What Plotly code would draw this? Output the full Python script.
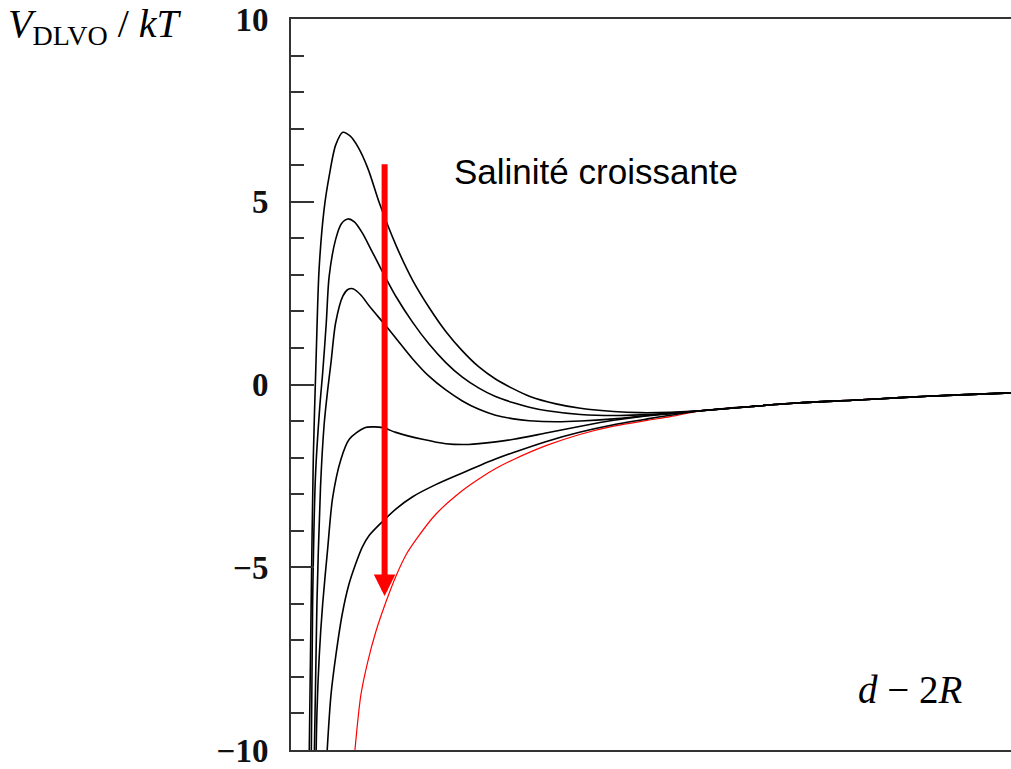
import plotly.graph_objects as go

# Separation d - 2R (arbitrary units) and interaction energy V_DLVO / kT
# for increasing salinity (curves 1 -> 5), plus the high-salinity limit.
x_c1 = [0.25, 0.28, 0.31, 0.35, 0.39, 0.46, 0.53, 0.62, 0.72, 0.82, 0.93, 1.07, 1.23,
        1.46, 1.69, 1.92, 2.15, 2.38, 2.61, 2.84, 3.09, 3.31, 3.68, 4.02, 4.48, 4.85, 5.27]
v_c1 = [-10.6, -6.0, -2.0, 0.8, 3.15, 4.8, 5.7, 6.55, 6.9, 6.8, 6.5, 5.9, 4.95,
        3.80, 2.85, 2.10, 1.45, 0.92, 0.48, 0.15, -0.12, -0.32, -0.53, -0.65, -0.74, -0.77,
        -0.76]

x_c2 = [0.28, 0.30, 0.34, 0.40, 0.44, 0.49, 0.53, 0.62, 0.70, 0.79, 0.88, 0.99, 1.11,
        1.23, 1.46, 1.69, 1.92, 2.15, 2.38, 2.61, 2.84, 3.09, 3.31, 3.56, 4.02, 4.48,
        4.85, 5.27]
v_c2 = [-10.6, -6.0, -2.5, -0.6, 0.32, 1.69, 2.96, 3.97, 4.40, 4.53, 4.45, 4.15, 3.70,
        3.24, 2.40, 1.70, 1.10, 0.60, 0.20, -0.10, -0.33, -0.50, -0.62, -0.72, -0.82, -0.85,
        -0.83, -0.78]

x_c3 = [0.32, 0.36, 0.41, 0.46, 0.51, 0.555, 0.62, 0.72, 0.79, 0.86, 0.97, 1.09, 1.32,
        1.46, 1.69, 1.92, 2.15, 2.38, 2.61, 2.84, 3.09, 3.31, 3.68, 4.02, 4.48, 4.85, 5.27]
v_c3 = [-10.6, -6.0, -2.8, -1.1, -0.14, 0.59, 1.69, 2.42, 2.60, 2.62, 2.45, 2.14, 1.60,
        1.26, 0.70, 0.22, -0.15, -0.45, -0.68, -0.84, -0.94, -0.99, -1.02, -1.00, -0.94,
        -0.87, -0.79]

x_c4 = [0.345, 0.36, 0.393, 0.44, 0.509, 0.578, 0.693, 0.809, 1.017, 1.137, 1.276, 1.456,
        1.827, 2.15, 2.469, 2.843, 3.093, 3.56, 4.022, 4.48, 4.854, 5.27]
v_c4 = [-10.6, -9.0, -7.4, -6.0, -4.5, -3.1, -2.05, -1.5, -1.19, -1.16, -1.18, -1.31,
        -1.50, -1.62, -1.64, -1.57, -1.50, -1.32, -1.14, -0.98, -0.88, -0.80]

x_c5 = [0.485, 0.555, 0.624, 0.71, 0.80, 0.90, 0.99, 1.09, 1.27, 1.46, 1.69, 2.01, 2.38,
        2.64, 2.84, 3.09, 3.56, 4.02, 4.48, 4.95, 5.27]
v_c5 = [-10.6, -8.5, -7.4, -6.3, -5.5, -4.9, -4.45, -4.12, -3.75, -3.40, -3.07, -2.74, -2.42,
        -2.20, -2.04, -1.86, -1.55, -1.30, -1.10, -0.94, -0.84]

x_red = [0.865, 0.97, 1.064, 1.18, 1.318, 1.456, 1.60, 1.734, 2.011, 2.381, 2.635, 2.843,
         3.093, 3.56, 4.022, 4.48, 4.947, 5.27]
v_red = [-10.5, -8.5, -7.6, -6.75, -5.95, -5.25, -4.65, -4.25, -3.55, -2.90, -2.55, -2.30,
         -2.05, -1.66, -1.36, -1.14, -0.98, -0.88]

# common long-range tail shared by every curve
x_tail = [5.69, 6.40, 7.07, 7.80, 8.46, 9.20, 10.0]
v_tail = [-0.72, -0.60, -0.50, -0.43, -0.36, -0.29, -0.23]

y_ticks = [-10, -5, 0, 5, 10]

fig = go.Figure()

fig.add_trace(go.Scatter(
    x=x_red + x_tail, y=v_red + v_tail, mode="lines",
    line=dict(color="#ff0000", width=1.2, shape="spline", smoothing=0.8),
    hoverinfo="skip"))

for xs, vs in [(x_c1, v_c1), (x_c2, v_c2), (x_c3, v_c3), (x_c4, v_c4), (x_c5, v_c5)]:
    fig.add_trace(go.Scatter(
        x=xs + x_tail, y=vs + v_tail, mode="lines",
        line=dict(color="#000000", width=1.6, shape="spline", smoothing=0.8),
        hoverinfo="skip"))

axis_col = "#333333"
fig.update_xaxes(range=[0, 10], showline=True, linewidth=2, linecolor=axis_col,
                 mirror=True, ticks="", showticklabels=False, showgrid=False,
                 zeroline=False)
fig.update_yaxes(range=[-10, 10], tickmode="array", tickvals=y_ticks,
                 ticks="inside", ticklen=23, tickwidth=2, tickcolor=axis_col,
                 showline=True, linewidth=2, linecolor=axis_col, mirror=False,
                 showgrid=False, zeroline=False, ticklabelstandoff=14,
                 tickfont=dict(family="Liberation Serif", size=33, color="#111111",
                               weight="bold"),
                 minor=dict(tickvals=[v for v in range(-10, 11) if v % 5 != 0],
                            ticks="inside", ticklen=13, tickwidth=2,
                            tickcolor=axis_col, showgrid=False))

fig.add_annotation(x=1.30, y=-5.79, ax=1.30, ay=6.07, xref="x", yref="y",
                   axref="x", ayref="y", text="", showarrow=True, arrowhead=2,
                   arrowsize=0.72, arrowwidth=6, arrowcolor="#ff0000", standoff=0)

fig.add_annotation(x=4.24, y=5.83, xref="x", yref="y", text="Salinité croissante",
                   showarrow=False, font=dict(family="Liberation Sans", size=35,
                                              color="#000000"))

fig.add_annotation(x=8.61, y=-8.34, xref="x", yref="y", text="<i>d</i> − 2<i>R</i>",
                   showarrow=False, font=dict(family="Liberation Serif", size=39,
                                              color="#000000"))

fig.add_annotation(x=-0.396, y=0.99, xref="paper", yref="paper", xanchor="left",
                   yanchor="middle",
                   text="<i>V</i><sub>DLVO</sub> / <i>kT</i>", showarrow=False,
                   font=dict(family="Liberation Serif", size=40, color="#000000"))

fig.update_layout(width=1011, height=769, margin=dict(l=291, r=0, t=19, b=19),
                  plot_bgcolor="white", paper_bgcolor="white", showlegend=False)

fig.write_html("out.html")
